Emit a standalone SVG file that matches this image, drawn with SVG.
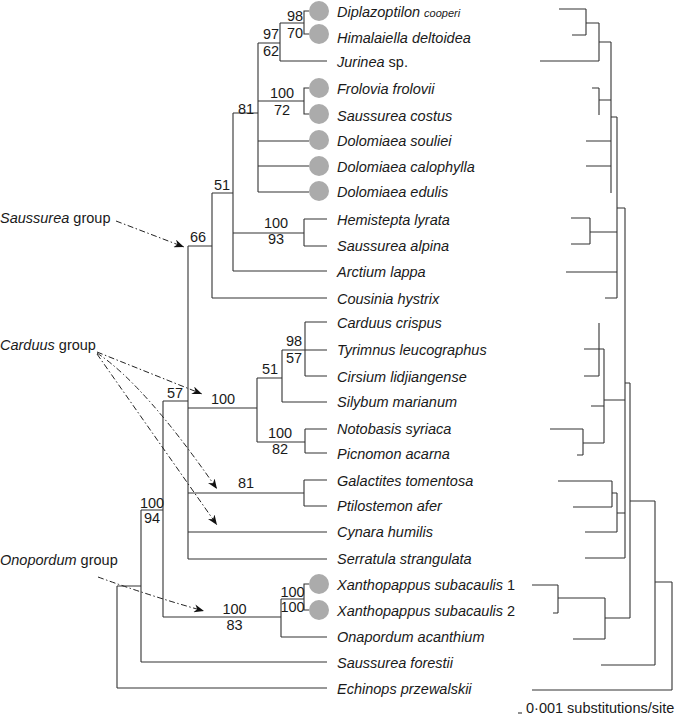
<svg xmlns="http://www.w3.org/2000/svg" width="676" height="720" viewBox="0 0 676 720">
<style>
.t{font-family:"Liberation Sans",Arial,Helvetica,sans-serif;font-size:14.5px;fill:#1a1a1a}
.i{font-style:italic}
.sm{font-size:11px}
.m{text-anchor:middle}
.e{fill:none;stroke:#333;stroke-width:1.1}
.c{fill:#ababab}
.a{fill:none;stroke:#222;stroke-width:1;stroke-dasharray:6 2.5 1.5 2.5}
</style>
<defs>
<marker id="ah" viewBox="0 0 10 8" refX="10" refY="4" markerWidth="10" markerHeight="8" markerUnits="userSpaceOnUse" orient="auto">
<path d="M0,0 L10,4 L0,8 L3,4 z" fill="#111"/>
</marker>
</defs>
<rect width="676" height="720" fill="#fff"/>

<!-- cladogram connectors -->
<g id="connectors">
<path class="e" d="M309,11H304V34H309M280,23H304M280,61H327M280,23V61M258,43H280
M309,88H304V114H309M258,101H304M258,141H309M258,166H309M258,192H309M258,43V192M233,113H258
M304,219H327M304,246H327M304,219V246M233,233H304M233,271H327M233,113V271M212,193H233
M212,298H327M212,193V298M188,246H212
M305,322H327M282,350H327M305,376H327M305,322V376M282,402H327M282,350V402M257,378H282
M305,429H327M305,453H327M305,429V453M257,442H305M257,378V442M188,408H257
M304,480H327M304,506H327M304,480V506M188,493H304M188,532H327M188,559H327M188,246V559M163,401H188
M309,584H304V610H309M281,599H304M281,637H327M281,599V637M163,617H281M163,401V617M141,510H163
M141,662H327M141,510V662M117,586H141M117,688H327M117,586V688"/>
</g>

<!-- phylogram -->
<g id="phylogram">
<path class="e" d="M559,9H586M572,35H586M586,9V35M586,23H599M540,61H599M599,23V61M599,42H611
M592,88H599M599,88V115M599,100H611M586,141H611M586,166H611M611,42V193M611,117H617
M571,218H590M571,244H590M590,218V244M590,232H617M566,272H617M605,298H617M617,117V298M617,208H625
M599,323V376M584,349H604M584,376H599M591,406H604M550,429H583M577,455H583M583,429V455M583,443H604M604,349V443M604,400H625
M558,481H612M573,507H612M612,481V507M612,493H617M585,532H617M617,493V532M617,513H625M585,558H625M625,208V558M625,383H630
M532,585H558M553,613H558M558,585V613M558,598H605M573,639H605M605,598V639M605,618H630M630,383V618M630,501H655
M601,665H655M655,501V665M655,582H672M532,690H672M672,582V690"/>
</g>

<!-- group arrows -->
<g id="group-arrows">
<path class="a" d="M116,221L184,247" marker-end="url(#ah)"/>
<path class="a" d="M97,352L202,394" marker-end="url(#ah)"/>
<path class="a" d="M97,353Q145,385 217,489" marker-end="url(#ah)"/>
<path class="a" d="M97,354L217,525" marker-end="url(#ah)"/>
<path class="a" d="M98,577Q150,596 204,611" marker-end="url(#ah)"/>
</g>

<!-- group labels -->
<g id="label-saussurea"><text class="t" x="0" y="223"><tspan class="i">Saussurea</tspan> group</text></g>
<g id="label-carduus"><text class="t" x="0" y="350"><tspan class="i">Carduus</tspan> group</text></g>
<g id="label-onopordum"><text class="t" x="0" y="565"><tspan class="i">Onopordum</tspan> group</text></g>

<!-- support values -->
<g id="support">
<text class="t m" x="295" y="21">98</text>
<text class="t m" x="295" y="37.5">70</text>
<text class="t m" x="271" y="38.5">97</text>
<text class="t m" x="271" y="56">62</text>
<text class="t m" x="282" y="98">100</text>
<text class="t m" x="282" y="115">72</text>
<text class="t m" x="246" y="114">81</text>
<text class="t m" x="222" y="190">51</text>
<text class="t m" x="276" y="228">100</text>
<text class="t m" x="276" y="244">93</text>
<text class="t m" x="198" y="242">66</text>
<text class="t m" x="294" y="346">98</text>
<text class="t m" x="294" y="363">57</text>
<text class="t m" x="270" y="374">51</text>
<text class="t m" x="223" y="404">100</text>
<text class="t m" x="175" y="398">57</text>
<text class="t m" x="280" y="438">100</text>
<text class="t m" x="280" y="454">82</text>
<text class="t m" x="246" y="488">81</text>
<text class="t m" x="152" y="508">100</text>
<text class="t m" x="152" y="523">94</text>
<text class="t m" x="292.5" y="597">100</text>
<text class="t m" x="292.5" y="612">100</text>
<text class="t m" x="234.5" y="614">100</text>
<text class="t m" x="234.5" y="630">83</text>
</g>

<!-- taxa -->
<g id="diplazoptilon"><circle class="c" cx="319" cy="11" r="10"/><text class="t i" x="337" y="17">Diplazoptilon <tspan class="sm">cooperi</tspan></text></g>
<g id="himalaiella"><circle class="c" cx="319" cy="34" r="10"/><text class="t i" x="337" y="43">Himalaiella deltoidea</text></g>
<g id="jurinea"><text class="t" x="337" y="67"><tspan class="i">Jurinea</tspan> sp.</text></g>
<g id="frolovia"><circle class="c" cx="319" cy="88" r="10"/><text class="t i" x="337" y="94">Frolovia frolovii</text></g>
<g id="saussurea-costus"><circle class="c" cx="319" cy="114" r="10"/><text class="t i" x="337" y="121">Saussurea costus</text></g>
<g id="dolomiaea-souliei"><circle class="c" cx="319" cy="140" r="10"/><text class="t i" x="337" y="146">Dolomiaea souliei</text></g>
<g id="dolomiaea-calophylla"><circle class="c" cx="319" cy="166" r="10"/><text class="t i" x="337" y="172">Dolomiaea calophylla</text></g>
<g id="dolomiaea-edulis"><circle class="c" cx="319" cy="191" r="10"/><text class="t i" x="337" y="197">Dolomiaea edulis</text></g>
<g id="hemistepta"><text class="t i" x="337" y="225">Hemistepta lyrata</text></g>
<g id="saussurea-alpina"><text class="t i" x="337" y="251">Saussurea alpina</text></g>
<g id="arctium"><text class="t i" x="337" y="277">Arctium lappa</text></g>
<g id="cousinia"><text class="t i" x="337" y="304">Cousinia hystrix</text></g>
<g id="carduus"><text class="t i" x="337" y="328">Carduus crispus</text></g>
<g id="tyrimnus"><text class="t i" x="337" y="355">Tyrimnus leucographus</text></g>
<g id="cirsium"><text class="t i" x="337" y="382">Cirsium lidjiangense</text></g>
<g id="silybum"><text class="t i" x="337" y="407">Silybum marianum</text></g>
<g id="notobasis"><text class="t i" x="337" y="434">Notobasis syriaca</text></g>
<g id="picnomon"><text class="t i" x="337" y="459">Picnomon acarna</text></g>
<g id="galactites"><text class="t i" x="337" y="486">Galactites tomentosa</text></g>
<g id="ptilostemon"><text class="t i" x="337" y="511">Ptilostemon afer</text></g>
<g id="cynara"><text class="t i" x="337" y="537">Cynara humilis</text></g>
<g id="serratula"><text class="t i" x="337" y="564">Serratula strangulata</text></g>
<g id="xanthopappus-1"><circle class="c" cx="319" cy="584" r="10"/><text class="t" x="337" y="590"><tspan class="i">Xanthopappus subacaulis</tspan> 1</text></g>
<g id="xanthopappus-2"><circle class="c" cx="319" cy="610" r="10"/><text class="t" x="337" y="616"><tspan class="i">Xanthopappus subacaulis</tspan> 2</text></g>
<g id="onapordum"><text class="t i" x="337" y="642">Onapordum acanthium</text></g>
<g id="saussurea-forestii"><text class="t i" x="337" y="668">Saussurea forestii</text></g>
<g id="echinops"><text class="t i" x="337" y="694">Echinops przewalskii</text></g>

<!-- scale bar -->
<g id="scale-bar">
<path class="e" d="M518,713H522"/>
<text class="t" x="526" y="713">0·001 substitutions/site</text>
</g>
</svg>
